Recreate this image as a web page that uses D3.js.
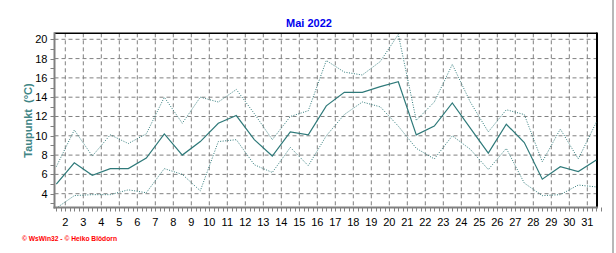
<!DOCTYPE html>
<html><head><meta charset="utf-8">
<script src="https://cdn.jsdelivr.net/npm/d3@7/dist/d3.min.js"></script>
<style>body{margin:0;background:#fff}svg{display:block}</style>
</head><body>
<script>
const days = d3.range(1, 32);
const maxVals  = [6.8,10.6,7.9,10.1,9.2,10.2,14.0,11.3,14.0,13.5,14.8,12.3,9.6,12.0,12.6,17.8,16.6,16.3,17.7,20.5,11.6,13.5,17.4,13.5,10.4,12.7,12.2,7.3,10.7,7.6,11.4];
const meanVals = [5.0,7.2,5.9,6.6,6.6,7.7,10.2,8.0,9.4,11.3,12.1,9.6,7.9,10.4,10.1,13.1,14.5,14.5,15.1,15.6,10.1,11.0,13.4,10.8,8.2,11.2,9.3,5.5,6.8,6.3,7.5];
const minVals  = [2.5,3.8,3.9,3.9,4.4,4.1,6.6,6.0,4.3,9.4,9.6,7.0,6.2,8.8,6.9,10.0,12.2,13.5,13.0,11.0,8.7,7.6,10.0,8.6,6.5,8.7,5.1,3.8,3.9,4.9,4.7];
const xTickLabels = d3.range(2, 32);
const yTickLabels = [4,6,8,10,12,14,16,18,20];

const W = 616, H = 253;
const L = 54.5, R = 597, T = 33.3, B = 207.5;
const lineColor = "#2f7a7a";
const font = "'Liberation Sans', Arial, sans-serif";

const svg = d3.select("body").append("svg").attr("width", W).attr("height", H);

const x = d3.scaleLinear().domain([1, 32]).range([47.3, 605.3]);
const y = d3.scaleLinear().domain([2.57, 20.62]).range([B, T]);

svg.append("defs").append("clipPath").attr("id", "clip")
  .append("rect").attr("x", L).attr("y", T).attr("width", R - L).attr("height", B - T);

// gridlines
const g = svg.append("g");
g.selectAll("line.hg").data(yTickLabels).join("line")
  .attr("x1", L).attr("x2", R).attr("y1", d => y(d)).attr("y2", d => y(d))
  .attr("stroke", "#808080").attr("stroke-dasharray", "4,3");
g.selectAll("line.vg").data(xTickLabels).join("line")
  .attr("x1", d => x(d)).attr("x2", d => x(d)).attr("y1", T).attr("y2", B)
  .attr("stroke", "#808080").attr("stroke-dasharray", "4,3");

// frame
svg.append("line").attr("x1", L).attr("x2", R).attr("y1", T).attr("y2", T).attr("stroke", "#000").attr("stroke-width", 1.5);
svg.append("line").attr("x1", R).attr("x2", R).attr("y1", T - 0.7).attr("y2", B).attr("stroke", "#000").attr("stroke-width", 2);

// lines
const line = vals => d3.line().x((d, i) => x(days[i] + 0.5)).y(d => y(d))(vals);
const lg = svg.append("g").attr("clip-path", "url(#clip)");
lg.append("path").attr("d", line(maxVals)).attr("fill", "none").attr("stroke", lineColor).attr("stroke-width", 1).attr("stroke-dasharray", "1,1.5");
lg.append("path").attr("d", line(minVals)).attr("fill", "none").attr("stroke", lineColor).attr("stroke-width", 1).attr("stroke-dasharray", "1,1.5");
lg.append("path").attr("d", line(meanVals)).attr("fill", "none").attr("stroke", lineColor).attr("stroke-width", 1.2);

// axes
svg.append("line").attr("x1", L).attr("x2", L).attr("y1", T - 1).attr("y2", B + 1).attr("stroke", "#808080").attr("stroke-width", 2);
svg.append("line").attr("x1", L - 1).attr("x2", R + 1).attr("y1", B).attr("y2", B).attr("stroke", "#808080").attr("stroke-width", 2);

// y ticks (every unit)
svg.append("g").selectAll("line").data(d3.range(3, 21)).join("line")
  .attr("x1", L - 4).attr("x2", L).attr("y1", d => Math.round(y(d)) + 0.5).attr("y2", d => Math.round(y(d)) + 0.5)
  .attr("stroke", "#808080");
// x ticks (every 6 h)
svg.append("g").selectAll("line").data(d3.range(1.5, 31.76, 0.25)).join("line")
  .attr("x1", d => Math.round(x(d)) + 0.5).attr("x2", d => Math.round(x(d)) + 0.5).attr("y1", B).attr("y2", B + 4)
  .attr("stroke", "#808080");

// labels
svg.append("g").selectAll("text").data(yTickLabels).join("text")
  .attr("x", 47.5).attr("y", d => y(d) + 4).attr("text-anchor", "end")
  .attr("font-family", font).attr("font-size", 11).attr("fill", "#000").text(d => d);
svg.append("g").selectAll("text").data(xTickLabels).join("text")
  .attr("x", d => x(d)).attr("y", 225.5).attr("text-anchor", "middle")
  .attr("font-family", font).attr("font-size", 11).attr("fill", "#000").text(d => d);

svg.append("text").attr("x", 309).attr("y", 26.5).attr("text-anchor", "middle")
  .attr("font-family", font).attr("font-size", 11).attr("font-weight", "bold").attr("fill", "#0000ee").text("Mai 2022");

svg.append("text").attr("transform", "translate(31.5,120.5) rotate(-90)").attr("text-anchor", "middle")
  .attr("font-family", font).attr("font-size", 11).attr("font-weight", "bold").attr("fill", "#408585")
  .attr("xml:space", "preserve").text("Taupunkt  (°C)");

svg.append("text").attr("x", 22).attr("y", 241).attr("font-family", font).attr("font-size", 7).attr("font-weight", "bold")
  .attr("fill", "#ff0000").attr("textLength", 95).attr("lengthAdjust", "spacingAndGlyphs").text("© WsWin32  -  © Heiko Blödorn");

// right edge border
svg.append("line").attr("x1", 613).attr("x2", 613).attr("y1", 0).attr("y2", H).attr("stroke", "#b8b8b8").attr("stroke-width", 2);
</script>
</body></html>
